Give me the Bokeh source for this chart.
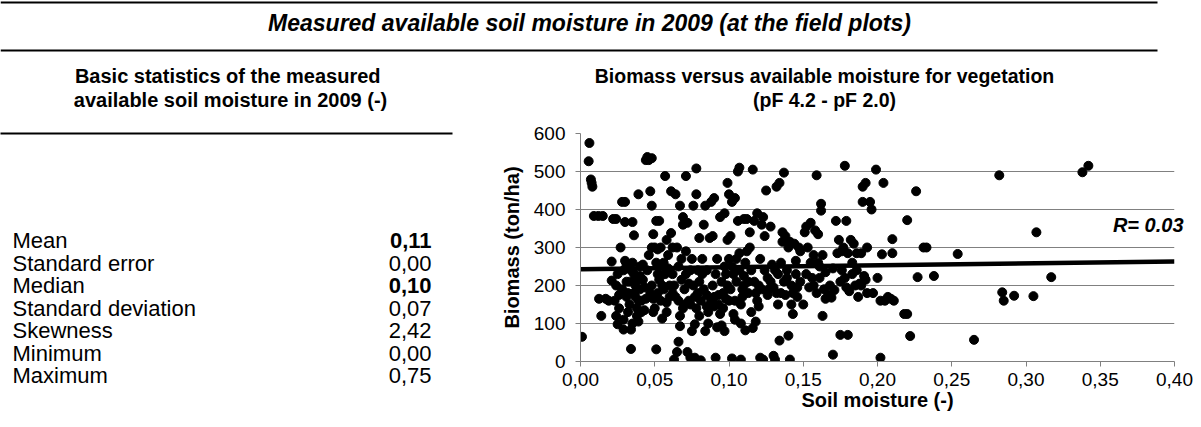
from bokeh.plotting import figure
from bokeh.layouts import column, row
from bokeh.models import Range1d, ColumnDataSource, FixedTicker, CustomJSTickFormatter
from bokeh.core.properties import value
from bokeh.embed import file_html
from bokeh.resources import INLINE

FONT = "Liberation Sans"

# ---------------- texts ----------------
main_title = "Measured available soil moisture in 2009 (at the field plots)"
table_title = ["Basic statistics of the  measured", "available soil moisture in 2009 (-)"]
plot_title = ["Biomass versus available moisture for vegetation", "(pF 4.2 - pF 2.0)"]
x_axis_title = "Soil moisture (-)"
y_axis_title = "Biomass (ton/ha)"
r_text = "R= 0.03"

# ---------------- table ----------------
stat_labels = ["Mean", "Standard error", "Median", "Standard deviation", "Skewness", "Minimum", "Maximum"]
stat_values = ["0,11", "0,00", "0,10", "0,07", "2,42", "0,00", "0,75"]
stat_bold = [True, False, True, False, False, False, False]

# ---------------- ticks ----------------
x_ticks = [0.00, 0.05, 0.10, 0.15, 0.20, 0.25, 0.30, 0.35, 0.40]
y_ticks = [0, 100, 200, 300, 400, 500, 600]

# ---------------- scatter data (soil moisture, biomass) ----------------
moisture_a = [0.001, 0.006, 0.0055, 0.007, 0.0075, 0.008, 0.009, 0.012, 0.015, 0.0125, 0.014, 0.017, 0.019]
biomass_a = [65, 575, 527, 479, 470, 460, 383, 383, 383, 165, 120, 165, 160]

moisture_b = [0.021, 0.021, 0.022, 0.024, 0.023, 0.024, 0.025, 0.025, 0.026, 0.027,
              0.028, 0.030, 0.029, 0.029, 0.030, 0.031, 0.030, 0.031, 0.032, 0.033,
              0.034, 0.034, 0.035, 0.036, 0.035, 0.036, 0.037, 0.037, 0.038, 0.039,
              0.038, 0.039, 0.040, 0.040, 0.041]
biomass_b = [263, 213, 375, 375, 160, 120, 98, 230, 175, 300,
             420, 420, 84, 110, 265, 255, 367, 210, 180, 150,
             33, 84, 367, 332, 260, 230, 200, 170, 140, 440,
             120, 105, 225, 190, 160]

moisture_c = [0.042, 0.043, 0.043, 0.044, 0.045, 0.046, 0.047, 0.047, 0.048, 0.048,
              0.049, 0.049, 0.050, 0.048, 0.051, 0.051, 0.052, 0.052, 0.053, 0.053,
              0.054, 0.054, 0.055, 0.056, 0.056, 0.057, 0.058, 0.058, 0.059, 0.060]
biomass_c = [255, 195, 135, 530, 538, 530, 448, 180, 410, 300,
             335, 130, 300, 535, 32, 370, 295, 230, 215, 370,
             160, 250, 113, 260, 190, 488, 155, 320, 280, 200]

moisture_d = [0.061, 0.061, 0.062, 0.062, 0.063, 0.064, 0.065, 0.065, 0.066, 0.066,
              0.067, 0.067, 0.067, 0.068, 0.069, 0.069, 0.070, 0.071, 0.071, 0.072,
              0.072, 0.073, 0.074, 0.074, 0.075, 0.075, 0.076, 0.077, 0.077, 0.078,
              0.078, 0.079, 0.079, 0.080, 0.080]
biomass_d = [448, 338, 300, 180, 5, 440, 25, 300, 52, 160,
             93, 120, 410, 270, 360, 380, 150, 488, 290, 25,
             365, 205, 10, 150, 80, 270, 410, 98, 10, 440,
             508, 240, 180, 325, 120]

moisture_e = [0.081, 0.082, 0.083, 0.084, 0.084, 0.085, 0.085, 0.086, 0.087, 0.088,
              0.089, 0.090, 0.090, 0.091, 0.092, 0.092, 0.093, 0.094, 0.095, 0.095,
              0.096, 0.097, 0.097, 0.098, 0.098, 0.099, 0.099, 0.100, 0.100]
biomass_e = [3, 270, 360, 410, 80, 145, 175, 100, 325, 420,
             330, 430, 170, 10, 270, 90, 150, 380, 210, 95,
             140, 390, 80, 165, 230, 470, 320, 440, 270]

moisture_f = [0.101, 0.102, 0.102, 0.103, 0.103, 0.104, 0.104, 0.105, 0.106, 0.106,
              0.107, 0.107, 0.108, 0.108, 0.109, 0.109, 0.110, 0.110, 0.111, 0.112,
              0.112, 0.113, 0.114, 0.114, 0.115, 0.116, 0.116, 0.117, 0.118, 0.118,
              0.119, 0.120, 0.120]
biomass_f = [330, 8, 420, 125, 230, 430, 110, 270, 370, 500,
             510, 285, 5, 100, 190, 170, 375, 225, 82, 375,
             290, 210, 300, 340, 130, 88, 505, 370, 180, 105,
             390, 200, 145]

moisture_g = [0.121, 0.121, 0.122, 0.123, 0.123, 0.124, 0.125, 0.126, 0.127, 0.128,
              0.129, 0.130, 0.130, 0.131, 0.132, 0.133, 0.133, 0.134, 0.134, 0.135,
              0.136, 0.136, 0.137, 0.137, 0.138, 0.139, 0.140, 0.140]
biomass_g = [270, 10, 360, 5, 380, 330, 450, 220, 190, 355,
             255, 15, 195, 5, 460, 230, 150, 470, 55, 180,
             315, 340, 497, 210, 330, 220, 68, 300]

moisture_h = [0.141, 0.141, 0.142, 0.143, 0.143, 0.144, 0.145, 0.146, 0.147, 0.148,
              0.150, 0.151, 0.152, 0.153, 0.154, 0.155, 0.156, 0.157, 0.158, 0.159,
              0.159, 0.160, 0.160]
biomass_h = [5, 315, 150, 180, 125, 310, 265, 195, 300, 290,
             150, 340, 355, 300, 195, 365, 220, 280, 345, 490,
             180, 335, 260]

moisture_i = [0.161, 0.162, 0.162, 0.163, 0.163, 0.164, 0.165, 0.167, 0.169, 0.170,
              0.171, 0.172, 0.173, 0.174, 0.175, 0.175, 0.176, 0.177, 0.178, 0.178,
              0.179, 0.180, 0.180]
biomass_i = [220, 415, 397, 120, 280, 190, 165, 175, 168, 18,
             188, 370, 285, 320, 210, 70, 290, 300, 515, 220,
             370, 70, 285]

moisture_j = [0.181, 0.182, 0.183, 0.184, 0.185, 0.186, 0.187, 0.188, 0.189, 0.190,
              0.190, 0.191, 0.192, 0.193, 0.193, 0.195, 0.196, 0.197, 0.199, 0.200,
              0.202, 0.202, 0.203, 0.204, 0.205, 0.207, 0.209, 0.210, 0.210, 0.211,
              0.218, 0.220, 0.220, 0.222]
biomass_j = [185, 320, 260, 310, 200, 285, 170, 205, 285, 420,
             460, 225, 470, 180, 300, 420, 400, 180, 505, 220,
             10, 160, 282, 470, 160, 170, 165, 322, 285, 160,
             125, 125, 372, 67]

moisture_k = [0.226, 0.227, 0.231, 0.233, 0.238, 0.254, 0.265, 0.282, 0.284, 0.285,
              0.292, 0.305, 0.307, 0.317, 0.338, 0.342]
biomass_k = [448, 222, 300, 300, 225, 283, 57, 490, 182, 160,
             173, 172, 340, 222, 498, 515]

moisture_l = [0.024, 0.026, 0.028, 0.029, 0.031, 0.032, 0.033, 0.034, 0.035, 0.036,
              0.038, 0.039, 0.040, 0.041, 0.042, 0.044, 0.045, 0.046, 0.048, 0.049,
              0.050, 0.051, 0.052, 0.054, 0.055, 0.057, 0.058, 0.059, 0.060]
biomass_l = [200, 140, 190, 240, 170, 130, 210, 240, 100, 180,
             215, 160, 250, 130, 215, 165, 240, 280, 200, 165,
             140, 260, 180, 300, 200, 230, 130, 245, 170]

moisture_m = [0.062, 0.063, 0.064, 0.066, 0.068, 0.069, 0.070, 0.071, 0.073, 0.074,
              0.076, 0.077, 0.078, 0.080, 0.081, 0.082, 0.083, 0.085, 0.086, 0.088,
              0.089, 0.090, 0.091, 0.093, 0.094, 0.096, 0.097, 0.099, 0.100, 0.101,
              0.102, 0.104, 0.105, 0.107, 0.108, 0.110, 0.111, 0.113, 0.115, 0.117,
              0.119]
biomass_m = [230, 200, 170, 250, 215, 140, 190, 230, 160, 240,
             200, 170, 140, 210, 160, 230, 190, 240, 130, 160,
             200, 145, 230, 175, 125, 180, 250, 200, 160, 190,
             250, 160, 210, 240, 150, 200, 260, 180, 240, 210,
             160]

moisture_n = [0.122, 0.124, 0.126, 0.128, 0.131, 0.132, 0.135, 0.138, 0.139, 0.142,
              0.145, 0.146, 0.148, 0.152, 0.155, 0.157, 0.161, 0.165, 0.168, 0.170,
              0.176, 0.179, 0.183, 0.186, 0.189, 0.192]
biomass_n = [190, 240, 175, 210, 240, 180, 260, 175, 240, 200,
             230, 170, 210, 230, 260, 200, 250, 235, 200, 245,
             240, 195, 230, 240, 200, 215]

# linear trend line (end points)
trend_moisture = [0.00, 0.40]
trend_biomass = [243, 263]

moisture = (moisture_a + moisture_b + moisture_c + moisture_d + moisture_e + moisture_f +
            moisture_g + moisture_h + moisture_i + moisture_j + moisture_k + moisture_l +
            moisture_m + moisture_n)
biomass = (biomass_a + biomass_b + biomass_c + biomass_d + biomass_e + biomass_f +
           biomass_g + biomass_h + biomass_i + biomass_j + biomass_k + biomass_l +
           biomass_m + biomass_n)
npts = min(len(moisture), len(biomass))
moisture, biomass = moisture[:npts], biomass[:npts]

# ---------------- layout geometry ----------------
W, H = 1201, 427
TOP_H = 115
LEFT_W = 470
BOT_H = H - TOP_H
B_TOP, B_BOT = 18, 66          # borders of the scatter frame inside the lower row


def blank(w, h, y_top, y_bot, mb_top=0, mb_bot=0):
    f = figure(width=w, height=h, x_range=Range1d(0, w), y_range=Range1d(y_bot, y_top),
               x_axis_type=None, y_axis_type=None, toolbar_location=None,
               output_backend="svg", min_border=0,
               min_border_top=mb_top, min_border_bottom=mb_bot)
    f.grid.visible = False
    f.outline_line_color = None
    f.background_fill_color = "white"
    f.border_fill_color = "white"
    return f


# top band: main title, rules, sub titles
top = blank(W, TOP_H, 0, TOP_H)
top.segment(x0=[0, 0], y0=[2, 50], x1=[1157, 1157], y1=[2, 50], line_width=2, line_color="black")
top.text(x=[589], y=[22], text=[main_title], text_font=value(FONT), text_font_size=value("23px"),
         text_font_style="bold italic", text_align="center", text_baseline="middle", text_color="black")
top.text(x=[230, 230], y=[75, 99], text=table_title, text_font=value(FONT), text_font_size=value("20px"),
         text_font_style="bold", text_align="center", text_baseline="middle", text_color="black")
top.text(x=[824, 824], y=[75, 99], text=plot_title, text_font=value(FONT), text_font_size=value("19.5px"),
         text_font_style="bold", text_align="center", text_baseline="middle", text_color="black")

# left: statistics table (its frame is aligned with the scatter frame -> page y 133..361)
left = blank(LEFT_W, BOT_H, TOP_H + B_TOP, H - B_BOT, B_TOP, B_BOT)
left.segment(x0=[0], y0=[133], x1=[452], y1=[133], line_width=2, line_color="black", level="overlay")
row_y = [240 + 22.5 * i for i in range(len(stat_labels))]
styles = ["bold" if b else "normal" for b in stat_bold]
tsrc = ColumnDataSource(dict(y=row_y, lab=stat_labels, val=stat_values, st=styles,
                             xl=[12] * len(stat_labels), xr=[431] * len(stat_labels)))
left.text(x="xl", y="y", text="lab", source=tsrc, text_font=value(FONT), text_font_size=value("22px"),
          text_align="left", text_baseline="middle", text_color="black", level="overlay")
left.text(x="xr", y="y", text="val", source=tsrc, text_font=value(FONT), text_font_size=value("22px"),
          text_font_style="st", text_align="right", text_baseline="middle", text_color="black",
          level="overlay")

# right: scatter plot
p = figure(width=W - LEFT_W, height=BOT_H, x_range=Range1d(0, 0.40), y_range=Range1d(0, 600),
           toolbar_location=None, output_backend="svg",
           min_border_left=110, min_border_right=27, min_border_top=B_TOP, min_border_bottom=B_BOT)
p.outline_line_color = None
p.background_fill_color = "white"
p.border_fill_color = "white"
p.xgrid.visible = False
p.ygrid.grid_line_color = "#808080"
p.ygrid.grid_line_width = 1
p.xaxis.ticker = FixedTicker(ticks=x_ticks, minor_ticks=[])
p.yaxis.ticker = FixedTicker(ticks=y_ticks, minor_ticks=[])
p.xaxis.formatter = CustomJSTickFormatter(code="return tick.toFixed(2).replace('.', ',');")
for ax in (p.xaxis[0], p.yaxis[0]):
    ax.axis_line_color = "#808080"
    ax.major_tick_line_color = "#808080"
    ax.major_tick_in = 0
    ax.major_tick_out = 5
    ax.minor_tick_line_color = None
    ax.major_label_text_font = FONT
    ax.major_label_text_font_size = "19px"
    ax.major_label_text_color = "black"
    ax.axis_label_text_font = FONT
    ax.axis_label_text_font_size = "20px"
    ax.axis_label_text_font_style = "bold"
    ax.axis_label_text_color = "black"
p.xaxis.axis_label = x_axis_title
p.yaxis.axis_label = y_axis_title
p.xaxis.major_label_standoff = 6
p.xaxis.axis_label_standoff = 0
p.yaxis.major_label_standoff = 10
p.yaxis.axis_label_standoff = 8

p.scatter(moisture, biomass, size=9, fill_color="black", line_color="black")
p.line(trend_moisture, trend_biomass, line_width=4.5, line_color="black")
# correlation label, drawn at overlay level so it may run past the plot area
p.text(x=[0.40], y=[359], text=[r_text], x_offset=9, text_align="right", text_baseline="middle",
       text_font=value(FONT), text_font_size=value("20px"), text_font_style="bold italic",
       text_color="black", level="overlay")

layout = column(top, row(left, p))
open("out.html", "w").write(file_html(layout, INLINE))
